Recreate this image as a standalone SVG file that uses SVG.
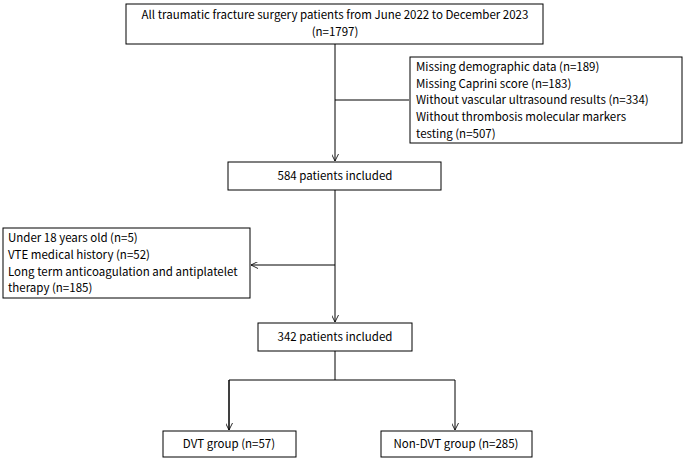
<svg xmlns="http://www.w3.org/2000/svg" width="685" height="458" viewBox="0 0 685 458">
<style>
rect{fill:#fff;stroke:#000;stroke-width:1}
text{font-family:"Noto Sans CJK SC","Liberation Sans",sans-serif;font-size:11.5px;fill:#000}
.c{text-anchor:middle}
#conn path{fill:none;stroke:#000;stroke-width:1}
</style>
<defs><marker id="a" viewBox="0 0 10 10" refX="10" refY="5" markerWidth="7" markerHeight="7" orient="auto"><path d="M0,0L10,5L0,10" fill="none" stroke="#000" stroke-width="1.2"/></marker></defs>
<rect width="685" height="458" style="stroke:none"/>
<g id="conn">
<path d="M335,44V161" marker-end="url(#a)"/>
<path d="M335,100H409"/>
<path d="M335,190V322" marker-end="url(#a)"/>
<path d="M335,265H251" marker-end="url(#a)"/>
<path d="M335,351V380M229,380H455M229,380V430M455,380V430" marker-end="url(#a)"/>
<path d="M229,380V430" marker-end="url(#a)"/>
</g>
<g id="n1"><rect x="126" y="4" width="417" height="40"/><text class="c" x="335" y="19">All traumatic fracture surgery patients from June 2022 to December 2023</text><text class="c" x="335" y="36">(n=1797)</text></g>
<g id="n2"><rect x="410" y="57" width="272" height="86"/><text x="416" y="71">Missing demographic data (n=189)</text><text x="416" y="88">Missing Caprini score (n=183)</text><text x="416" y="104">Without vascular ultrasound results (n=334)</text><text x="416" y="121">Without thrombosis molecular markers</text><text x="416" y="138">testing (n=507)</text></g>
<g id="n3"><rect x="228" y="162" width="213" height="28"/><text class="c" x="335" y="180">584 patients included</text></g>
<g id="n4"><rect x="3" y="228" width="247" height="70"/><text x="8" y="242">Under 18 years old (n=5)</text><text x="8" y="259">VTE medical history (n=52)</text><text x="8" y="276">Long term anticoagulation and antiplatelet</text><text x="8" y="292">therapy (n=185)</text></g>
<g id="n5"><rect x="258" y="323" width="154" height="28"/><text class="c" x="335" y="341">342 patients included</text></g>
<g id="n6"><rect x="163" y="431" width="133" height="26"/><text class="c" x="229" y="448">DVT group (n=57)</text></g>
<g id="n7"><rect x="381" y="431" width="151" height="26"/><text class="c" x="456" y="448">Non-DVT group (n=285)</text></g>
</svg>
